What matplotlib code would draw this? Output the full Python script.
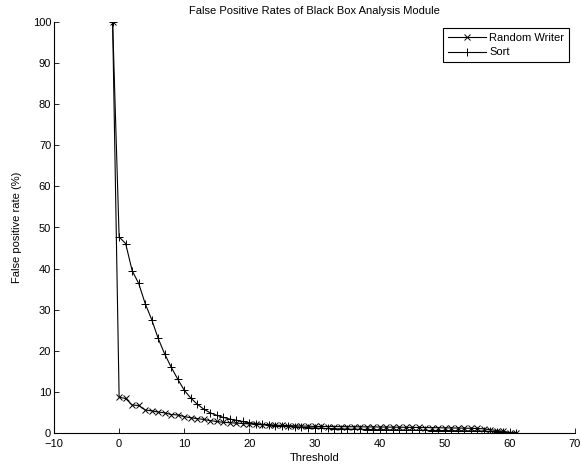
import matplotlib
matplotlib.use("Agg")
import matplotlib.pyplot as plt

thresholds = list(range(-1, 62))

sort_vals = [100, 47.7, 46.1, 39.5, 36.4, 31.5, 27.6, 23.0, 19.2, 16.0, 13.1,
             10.4, 8.5, 7.0, 5.8, 4.9, 4.3, 3.8, 3.4, 3.1, 2.8,
             2.5, 2.3, 2.1, 2.0, 1.8, 1.7, 1.6, 1.5, 1.4, 1.3,
             1.2, 1.15, 1.1, 1.05, 1.0, 0.95, 0.9, 0.9, 0.85, 0.8,
             0.8, 0.75, 0.75, 0.7, 0.7, 0.7, 0.65, 0.65, 0.6, 0.6,
             0.6, 0.55, 0.55, 0.5, 0.5, 0.5, 0.45, 0.4, 0.35, 0.3,
             0.1, 0.0]

rw_vals = [100, 8.7, 8.4, 6.8, 6.7, 5.6, 5.4, 5.1, 4.9, 4.5, 4.4,
           4.0, 3.7, 3.5, 3.3, 3.0, 2.8, 2.6, 2.5, 2.4, 2.3,
           2.2, 2.1, 2.0, 1.95, 1.9, 1.85, 1.8, 1.75, 1.7, 1.65,
           1.6, 1.6, 1.58, 1.56, 1.55, 1.53, 1.52, 1.5, 1.48, 1.47,
           1.45, 1.43, 1.42, 1.4, 1.38, 1.36, 1.34, 1.32, 1.3, 1.28,
           1.25, 1.22, 1.2, 1.17, 1.14, 1.1, 1.0, 0.8, 0.6, 0.4,
           0.1, 0.0]

xticks = list(range(-10, 71, 10))
yticks = list(range(0, 101, 10))

plt.rcParams['font.family'] = ['Liberation Sans', 'DejaVu Sans']

fig = plt.figure(figsize=(5.8, 4.65), dpi=100)
ax = fig.add_axes([54/580, 1-433/465, (575-54)/580, (433-22)/465])

ax.plot(thresholds, rw_vals, color='black', lw=0.8, marker='x', ms=4.5,
        mew=0.7, label='Random Writer')
ax.plot(thresholds, sort_vals, color='black', lw=0.8, marker='+', ms=6,
        mew=0.7, label='Sort')

ax.set_xlim(-10, 70)
ax.set_ylim(0, 100)
ax.set_xticks(xticks)
ax.set_yticks(yticks)
ax.set_xticklabels([str(t).replace('-', '\u2212') for t in xticks])
ax.tick_params(direction='in', length=3.6, width=0.6, labelsize=8)
ax.tick_params(axis='x', pad=4)
ax.tick_params(axis='y', pad=2)
for s in ['top', 'right']:
    ax.spines[s].set_visible(False)
for s in ['left', 'bottom']:
    ax.spines[s].set_linewidth(0.8)

ax.set_xlabel('Threshold', fontsize=8, labelpad=3)
ax.set_ylabel('False positive rate (%)', fontsize=8, labelpad=8)
ax.set_title('False Positive Rates of Black Box Analysis Module', fontsize=8, pad=5.5)

leg = ax.legend(loc='upper right', fontsize=8, fancybox=False, framealpha=1,
                edgecolor='black', handlelength=3.4, borderpad=0.45,
                labelspacing=0.4, handletextpad=0.3, borderaxespad=0,
                bbox_to_anchor=((569-54)/(575-54), (433-28)/(433-22)))
leg.get_frame().set_linewidth(0.8)

fig.savefig('out.png', dpi=100)
